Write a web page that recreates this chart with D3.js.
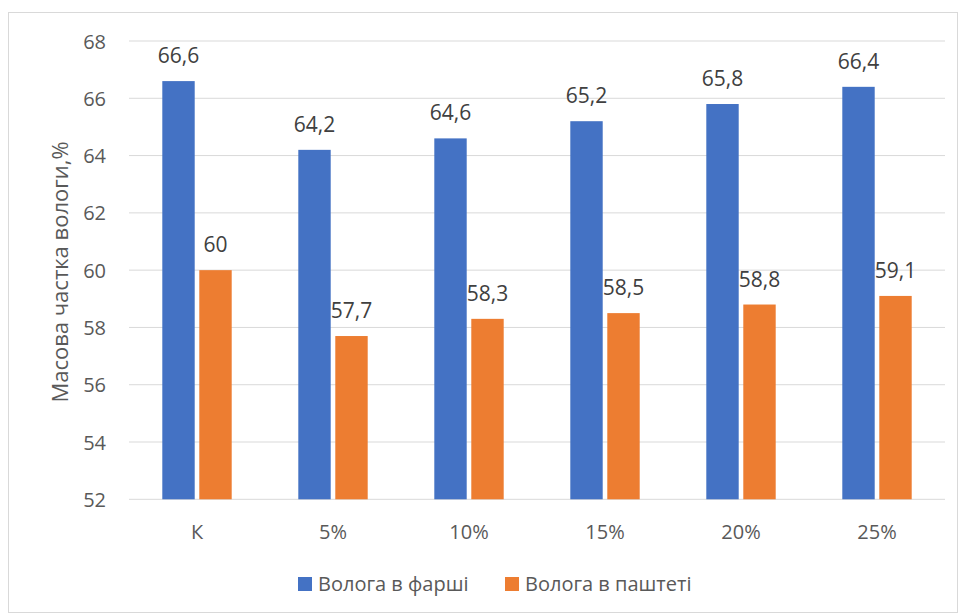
<!DOCTYPE html>
<html><head><meta charset="utf-8">
<script src="https://cdn.jsdelivr.net/npm/d3@7"></script>
<style>body{margin:0;background:#fff;}svg{display:block;}</style>
</head><body>
<script>
const categories = ["К","5%","10%","15%","20%","25%"];
const seriesNames = ["Волога в фарші","Волога в паштеті"];
const farsh = [66.6,64.2,64.6,65.2,65.8,66.4];
const pashtet = [60,57.7,58.3,58.5,58.8,59.1];
const labelsFarsh = ["66,6","64,2","64,6","65,2","65,8","66,4"];
const labelsPashtet = ["60","57,7","58,3","58,5","58,8","59,1"];
const yTicks = [52,54,56,58,60,62,64,66,68];
const colors = ["#4472C4","#ED7D31"];

(function(){
const W=960,H=615;
const svg=d3.select("body").append("svg").attr("width",W).attr("height",H);
const font="'Open Sans', sans-serif";
svg.append("rect").attr("x",8.5).attr("y",12.5).attr("width",949).attr("height",600)
  .attr("fill","#fff").attr("stroke","#d9d9d9").attr("stroke-width",1);

const pLeft=129,pRight=945,pTop=41,pBottom=499.3;
const x=d3.scaleBand().domain(categories).range([pLeft,pRight]).paddingInner(0).paddingOuter(0);
const y=d3.scaleLinear().domain([52,68]).range([pBottom,pTop]);
const x1=d3.scaleBand().domain([0,1]).range([0,69.4]).paddingInner(0.124);

svg.append("g").selectAll("line").data(yTicks).join("line")
  .attr("x1",pLeft).attr("x2",pRight).attr("y1",d=>y(d)).attr("y2",d=>y(d))
  .attr("stroke","#d9d9d9").attr("stroke-width",1);

const yAxis=d3.axisLeft(y).tickValues(yTicks).tickSize(0).tickPadding(0).tickFormat(d=>d);
const ya=svg.append("g").attr("transform",`translate(${106},0)`).call(yAxis);
ya.select(".domain").remove();
ya.selectAll("text").attr("font-family",font).attr("font-size",20).attr("fill","#595959").attr("dy","0.35em");

const xAxis=d3.axisBottom(x).tickSize(0).tickPadding(0);
const xa=svg.append("g").attr("transform",`translate(0,${532})`).call(xAxis);
xa.select(".domain").remove();
xa.selectAll("text").attr("font-family",font).attr("font-size",20).attr("fill","#595959").attr("dy","0.35em");

const series=[farsh,pashtet];
const labels=[labelsFarsh,labelsPashtet];
const off=(x.bandwidth()-69.4)/2;
series.forEach((vals,si)=>{
  const g=svg.append("g");
  g.selectAll("rect").data(vals).join("rect")
    .attr("x",(d,i)=>x(categories[i])+off+x1(si))
    .attr("width",x1.bandwidth())
    .attr("y",d=>y(d)).attr("height",d=>y(52)-y(d))
    .attr("fill",colors[si]);
  g.selectAll("text").data(vals).join("text")
    .attr("x",(d,i)=>x(categories[i])+off+x1(si)+x1.bandwidth()/2)
    .attr("y",d=>y(d)-18)
    .attr("text-anchor","middle").attr("font-family",font).attr("font-size",21).attr("fill","#404040")
    .text((d,i)=>labels[si][i]);
});

svg.append("text").attr("transform",`translate(60,${272}) rotate(-90)`)
  .attr("text-anchor","middle").attr("dy","0.35em").attr("font-family",font).attr("font-size",22).attr("fill","#595959")
  .text("Масова частка вологи,%");

const legX=[298,505];
seriesNames.forEach((n,i)=>{
  svg.append("rect").attr("x",legX[i]).attr("y",577).attr("width",14).attr("height",14).attr("fill",colors[i]);
  svg.append("text").attr("x",legX[i]+20).attr("y",584).attr("dy","0.35em")
    .attr("font-family",font).attr("font-size",20).attr("fill","#595959").text(n);
});
})();
</script>
</body></html>
